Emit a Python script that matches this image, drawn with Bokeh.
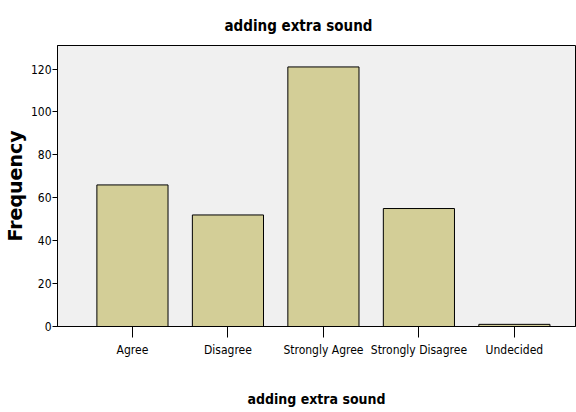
from bokeh.plotting import figure
from bokeh.models import ColumnDataSource, Range1d, FixedTicker, Title
from bokeh.embed import file_html
from bokeh.resources import INLINE

categories = ["Agree", "Disagree", "Strongly Agree", "Strongly Disagree", "Undecided"]
frequencies = [66, 52, 121, 55, 1]
y_ticks = [0, 20, 40, 60, 80, 100, 120]

positions = list(range(len(categories)))
source = ColumnDataSource(dict(x=positions, top=frequencies, label=categories))

NARROW = "DejaVu Sans Condensed"

p = figure(width=576, height=412, output_backend="svg", toolbar_location=None,
           x_range=Range1d(-0.785, 4.64), y_range=Range1d(0, 131),
           min_border_left=57, min_border_right=1, min_border_top=45, min_border_bottom=86)

p.title = Title(text="adding extra sound", align="left", offset=167,
                text_font=NARROW, text_font_size="15px", text_font_style="bold",
                text_color="black", standoff=22)

p.vbar(x="x", top="top", bottom=0, width=0.745, source=source,
       fill_color="#D3CE97", line_color="black", line_width=1)

p.background_fill_color = "#F0F0F0"
p.border_fill_color = "white"
p.outline_line_color = "black"
p.outline_line_width = 1
p.xgrid.visible = False
p.ygrid.visible = False

xa = p.xaxis[0]
xa.ticker = FixedTicker(ticks=positions)
xa.major_label_overrides = {i: c for i, c in zip(positions, categories)}
xa.major_tick_out = 11
xa.major_tick_in = 0
xa.minor_tick_line_color = None
xa.major_label_standoff = 5
xa.major_label_text_font = NARROW
xa.major_label_text_font_size = "12px"
xa.major_label_text_color = "black"
xa.axis_label = "adding extra sound"
xa.axis_label_text_font = NARROW
xa.axis_label_text_font_size = "14px"
xa.axis_label_text_font_style = "bold"
xa.axis_label_text_color = "black"
xa.axis_label_standoff = 31
xa.axis_line_color = "black"

ya = p.yaxis[0]
ya.ticker = FixedTicker(ticks=y_ticks)
ya.major_tick_out = 5
ya.major_tick_in = 0
ya.minor_tick_line_color = None
ya.major_label_standoff = 1
ya.major_label_text_font = NARROW
ya.major_label_text_font_size = "12px"
ya.major_label_text_color = "black"
ya.axis_label = "Frequency"
ya.axis_label_text_font = "DejaVu Sans"
ya.axis_label_text_font_size = "19px"
ya.axis_label_text_font_style = "bold"
ya.axis_label_text_color = "black"
ya.axis_label_standoff = 2
ya.axis_line_color = "black"

open("out.html", "w").write(file_html(p, INLINE))
